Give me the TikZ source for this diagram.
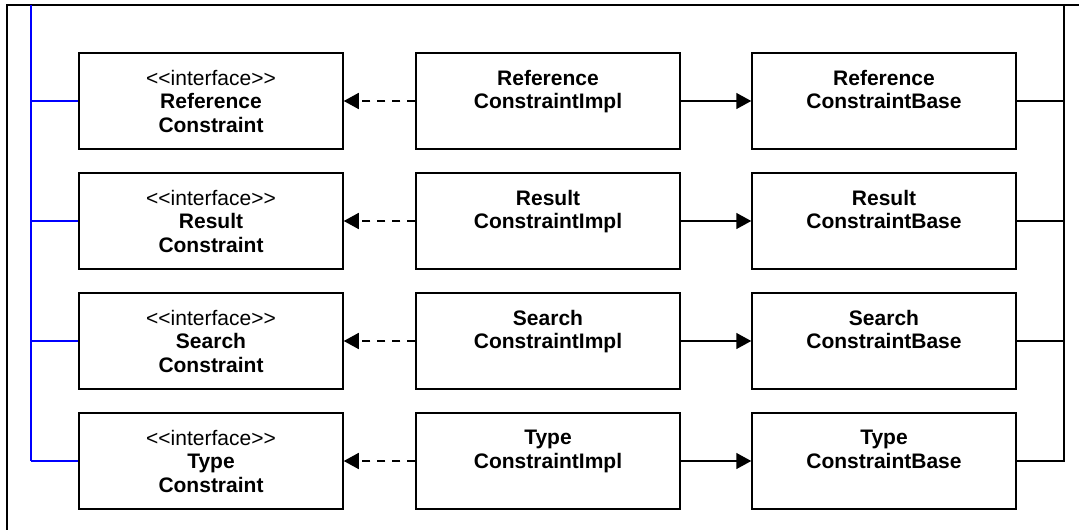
\documentclass[tikz,border=0pt]{standalone}
\usepackage{fontspec}
\newfontfamily\umlfont{Liberation Sans}
\usetikzlibrary{arrows.meta}

\begin{document}
\begin{tikzpicture}[x=1pt,y=-1pt,
    cls/.style={draw, line width=1.5pt, minimum width=264pt, minimum height=96pt,
        inner sep=0pt, align=center, font=\umlfont\fontsize{21}{23.5}\selectfont},
    realize/.style={-{Triangle[length=15pt,width=16pt]}, line width=1.5pt, dash pattern=on 8pt off 7pt},
    assoc/.style={-{Triangle[length=15pt,width=16pt]}, line width=1.5pt},
    link/.style={line width=1.5pt},
    bus/.style={blue, line width=1.3pt}]
    \useasboundingbox (0,0) rectangle (1079,530);

    % frame
    \draw[link] (7,530) -- (7,5) -- (1079,5);
    \coordinate (ltop) at (31,5);
    \coordinate (lbot) at (31,461);
    \coordinate (rtop) at (1064,5);

    % interfaces
    \node[cls] (refIf) at (211,101) {<<interface>>\\\textbf{Reference}\\\textbf{Constraint}};
    \node[cls] (resIf) at (211,221) {<<interface>>\\\textbf{Result}\\\textbf{Constraint}};
    \node[cls] (seaIf) at (211,341) {<<interface>>\\\textbf{Search}\\\textbf{Constraint}};
    \node[cls] (typIf) at (211,461) {<<interface>>\\\textbf{Type}\\\textbf{Constraint}};

    % implementations
    \node[cls] (refImpl) at (548,101) {\textbf{Reference}\\\textbf{ConstraintImpl}\\\mbox{}};
    \node[cls] (resImpl) at (548,221) {\textbf{Result}\\\textbf{ConstraintImpl}\\\mbox{}};
    \node[cls] (seaImpl) at (548,341) {\textbf{Search}\\\textbf{ConstraintImpl}\\\mbox{}};
    \node[cls] (typImpl) at (548,461) {\textbf{Type}\\\textbf{ConstraintImpl}\\\mbox{}};

    % bases
    \node[cls] (refBase) at (884,101) {\textbf{Reference}\\\textbf{ConstraintBase}\\\mbox{}};
    \node[cls] (resBase) at (884,221) {\textbf{Result}\\\textbf{ConstraintBase}\\\mbox{}};
    \node[cls] (seaBase) at (884,341) {\textbf{Search}\\\textbf{ConstraintBase}\\\mbox{}};
    \node[cls] (typBase) at (884,461) {\textbf{Type}\\\textbf{ConstraintBase}\\\mbox{}};

    % left bus
    \draw[bus] (ltop) -- (lbot);
    \draw[bus] (refIf.west -| ltop) -- (refIf.west);
    \draw[bus] (resIf.west -| ltop) -- (resIf.west);
    \draw[bus] (seaIf.west -| ltop) -- (seaIf.west);
    \draw[bus] (typIf.west -| ltop) -- (typIf.west);

    % realizations and associations
    \draw[realize] (refImpl) -- (refIf);
    \draw[realize] (resImpl) -- (resIf);
    \draw[realize] (seaImpl) -- (seaIf);
    \draw[realize] (typImpl) -- (typIf);
    \draw[assoc] (refImpl) -- (refBase);
    \draw[assoc] (resImpl) -- (resBase);
    \draw[assoc] (seaImpl) -- (seaBase);
    \draw[assoc] (typImpl) -- (typBase);

    % right bus
    \draw[link] (rtop) |- (typBase.east);
    \draw[link] (refBase.east) -- (refBase.east -| rtop);
    \draw[link] (resBase.east) -- (resBase.east -| rtop);
    \draw[link] (seaBase.east) -- (seaBase.east -| rtop);
\end{tikzpicture}
\end{document}
